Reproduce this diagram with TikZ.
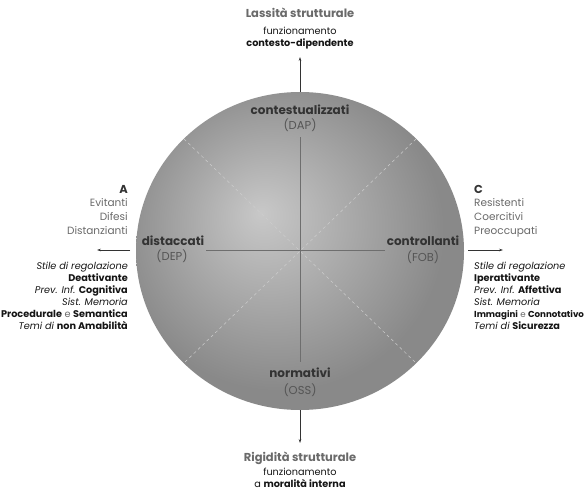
\documentclass[tikz,border=0pt]{standalone}
\usepackage{fontspec}
\setmainfont{Poppins}
\usetikzlibrary{arrows.meta}
\definecolor{txtgray}{HTML}{6A6A6A}
\definecolor{abbrgray}{HTML}{555555}
\definecolor{txtdark}{HTML}{333333}
\definecolor{txtblack}{HTML}{151515}
\definecolor{dsca}{HTML}{C8C8C8}
\definecolor{dscb}{HTML}{898989}
\definecolor{crossline}{HTML}{6E6E6E}
\definecolor{diagline}{HTML}{CDCDCD}
\pgfdeclareradialshading{discshade}{\pgfpoint{-6bp}{6bp}}{color(0bp)=(dsca); color(25bp)=(dscb); color(50bp)=(dscb)}
\begin{document}
\begin{tikzpicture}[x=1pt,y=-1pt,
  lbl/.style={inner sep=0pt, anchor=mid, font=\fontsize{9.7}{10}\selectfont, text=txtblack},
  lblb/.style={lbl, font=\fontsize{9.7}{10}\selectfont\bfseries},
  head/.style={inner sep=0pt, anchor=mid, font=\fontsize{11.5}{13}\selectfont\bfseries, text=txtgray},
  quad/.style={inner sep=0pt, anchor=mid, font=\fontsize{12}{13}\selectfont\bfseries, text=txtdark},
  abbr/.style={inner sep=0pt, anchor=mid, font=\fontsize{11.5}{12}\selectfont, text=abbrgray},
  grp/.style={inner sep=0pt, font=\fontsize{10.5}{12}\selectfont, text=txtgray},
  grphead/.style={inner sep=0pt, font=\fontsize{11.5}{12}\selectfont\bfseries, text=txtdark},
  side/.style={inner sep=0pt, font=\fontsize{9.7}{10}\selectfont, text=txtblack},
  axis/.style={draw=txtdark, line width=0.5pt, -{Stealth[length=4pt,width=2.6pt]}},
  cross/.style={draw=crossline, line width=0.6pt},
  diag/.style={draw=diagline, line width=0.5pt, dashed}
]
\useasboundingbox (0,0) rectangle (588,492);
\fill[white] (0,0) rectangle (588,492);

% disc
\coordinate (c) at (300,251);
\shade[shading=discshade] (c) ellipse [x radius=164, y radius=159];

% diagonals
\coordinate (d1) at (416,139);
\coordinate (d2) at (184,139);
\coordinate (d3) at (184,363);
\coordinate (d4) at (416,363);
\draw[diag] (d1) -- (d3);
\draw[diag] (d2) -- (d4);

% inner cross
\coordinate (vt) at (300,137);
\coordinate (vb) at (300,362);
\coordinate (hl) at (206,250);
\coordinate (hr) at (385,250);
\draw[cross] (vt) -- (vb);
\draw[cross] (hl) -- (hr);

% outer arrows
\coordinate (at0) at (300,92);   \coordinate (at1) at (300,57);
\coordinate (ab0) at (300,410);  \coordinate (ab1) at (300,443);
\coordinate (al0) at (130,250);  \coordinate (al1) at (97,250);
\coordinate (ar0) at (468,250);  \coordinate (ar1) at (503,250);
\draw[axis] (at0) -- (at1);
\draw[axis] (ab0) -- (ab1);
\draw[axis] (al0) -- (al1);
\draw[axis] (ar0) -- (ar1);

% top labels
\node[head] (tt) at (300,15) {Lassità strutturale};
\node[lbl]  (tf) at (300,32) {funzionamento};
\node[lblb] (tc) at (300,44) {contesto-dipendente};

% bottom labels
\node[head] (bt) at (300,459) {Rigidità strutturale};
\node[lbl]  (bf) at (300,473) {funzionamento};
\node[lbl]  (bc) at (300,485) {a \textbf{moralità interna}};

% quadrant labels
\node[quad] (q1) at (300,112) {contestualizzati};
\node[abbr] (q1a) at (300,127) {(DAP)};
\node[quad] (q2) at (173,243) {distaccati};
\node[abbr] (q2a) at (172,258) {(DEP)};
\node[quad] (q3) at (423,243) {controllanti};
\node[abbr] (q3a) at (423,259) {(FOB)};
\node[quad] (q4) at (300,375) {normativi};
\node[abbr] (q4a) at (300,392) {(OSS)};

% left block
\node[grphead, anchor=mid east] (la) at (128,191) {A};
\node[grp, anchor=mid east] (l1) at (128,204) {Evitanti};
\node[grp, anchor=mid east] (l2) at (128,218) {Difesi};
\node[grp, anchor=mid east] (l3) at (128,232) {Distanzianti};
\node[side, anchor=mid east] (l4) at (128,267) {\textit{Stile di regolazione}};
\node[side, anchor=mid east] (l5) at (128,279) {\textbf{Deattivante}};
\node[side, anchor=mid east] (l6) at (128,291) {\textit{Prev. Inf.} \textbf{Cognitiva}};
\node[side, anchor=mid east] (l7) at (128,303) {\textit{Sist. Memoria}};
\node[side, anchor=mid east] (l8) at (128,315) {\textbf{Procedurale} {\color{txtgray}e} \textbf{Semantica}};
\node[side, anchor=mid east] (l9) at (128,327) {\textit{Temi di} \textbf{non Amabilità}};

% right block
\node[grphead, anchor=mid west] (ra) at (474,191) {C};
\node[grp, anchor=mid west] (r1) at (474,204) {Resistenti};
\node[grp, anchor=mid west] (r2) at (474,218) {Coercitivi};
\node[grp, anchor=mid west] (r3) at (474,232) {Preoccupati};
\node[side, anchor=mid west] (r4) at (474,267) {\textit{Stile di regolazione}};
\node[side, anchor=mid west] (r5) at (474,279) {\textbf{Iperattivante}};
\node[side, anchor=mid west] (r6) at (474,291) {\textit{Prev. Inf.} \textbf{Affettiva}};
\node[side, anchor=mid west] (r7) at (474,303) {\textit{Sist. Memoria}};
\node[side, anchor=mid west, font=\fontsize{8.7}{10}\selectfont] (r8) at (474,315) {\textbf{Immagini} {\color{txtgray}e} \textbf{Connotativo}};
\node[side, anchor=mid west] (r9) at (474,327) {\textit{Temi di} \textbf{Sicurezza}};
\end{tikzpicture}
\end{document}
